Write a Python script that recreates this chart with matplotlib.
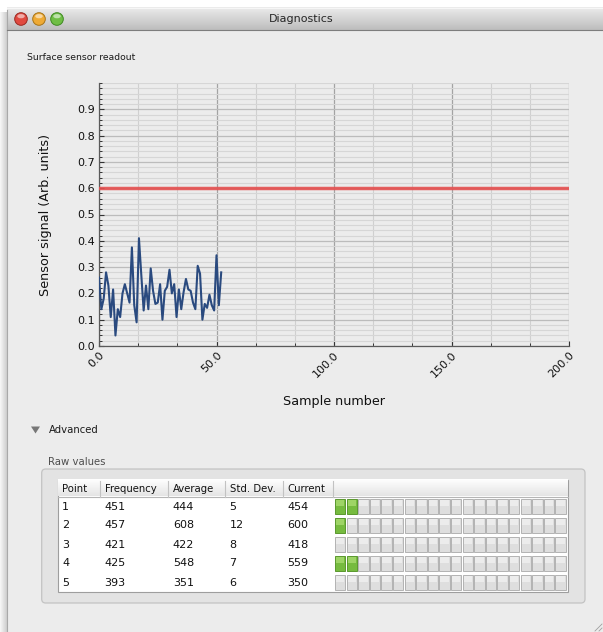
import numpy as np
import matplotlib
matplotlib.use("Agg")
import matplotlib.pyplot as plt
from matplotlib.patches import Rectangle, FancyBboxPatch, Circle, Polygon, Ellipse
from matplotlib.ticker import MultipleLocator, FixedLocator, FormatStrFormatter

# ---------------- data ----------------
sample_index = list(range(53))
signal = [0.26, 0.14, 0.18, 0.28, 0.23, 0.11, 0.215, 0.04, 0.14, 0.11,
          0.20, 0.235, 0.20, 0.165, 0.375, 0.155, 0.09, 0.41, 0.27, 0.135,
          0.23, 0.14, 0.295, 0.21, 0.16, 0.165, 0.235, 0.10, 0.21, 0.225,
          0.29, 0.20, 0.235, 0.11, 0.215, 0.14, 0.205, 0.255, 0.215, 0.21,
          0.165, 0.14, 0.305, 0.275, 0.10, 0.16, 0.145, 0.195, 0.155, 0.135,
          0.345, 0.155, 0.28]
threshold = 0.6
x_limits = (0, 200)
y_limits = (0, 1.0)
x_ticks = [0, 50, 100, 150, 200]
y_ticks = [0.0, 0.1, 0.2, 0.3, 0.4, 0.5, 0.6, 0.7, 0.8, 0.9]

window_title = "Diagnostics"
chart_title = "Surface sensor readout"
x_label = "Sample number"
y_label = "Sensor signal (Arb. units)"

table_columns = ["Point", "Frequency", "Average", "Std. Dev.", "Current"]
points = [1, 2, 3, 4, 5]
frequency = [451, 457, 421, 425, 393]
average = [444, 608, 422, 548, 351]
std_dev = [5, 12, 8, 7, 6]
current = [454, 600, 418, 559, 350]
led_levels = [2, 1, 0, 2, 0]
led_count = 20

# ---------------- figure ----------------
W, H = 603, 632
fig = plt.figure(figsize=(W / 100, H / 100), dpi=100)
fig.patch.set_facecolor("white")
plt.rcParams["font.family"] = ["DejaVu Sans"]

bg = fig.add_axes([0, 0, 1, 1], zorder=0)
bg.axis("off")

def vgrad(ax, x0, x1, y0, y1, c_top, c_bot, z=1):
    c0 = np.array(matplotlib.colors.to_rgb(c_top))
    c1 = np.array(matplotlib.colors.to_rgb(c_bot))
    t = np.linspace(0, 1, 64)[:, None]
    img = (c0[None, :] * (1 - t) + c1[None, :] * t)[:, None, :]
    ax.imshow(img, extent=(x0, x1, y1, y0), origin="upper", aspect="auto",
              zorder=z, interpolation="bilinear")

# left shadow
c0 = np.array(matplotlib.colors.to_rgb("#f7f7f7"))
c1 = np.array(matplotlib.colors.to_rgb("#cfcfcf"))
t = np.linspace(0, 1, 16)[None, :]
img = (c0[:, None] * (1 - t) + c1[:, None] * t).T[None, :, :]
bg.imshow(img, extent=(0, 7, H, 12), origin="upper", aspect="auto", zorder=0.5)

# window body
bg.add_patch(Rectangle((7, 30), W - 7, H - 30, facecolor="#ececec",
                       edgecolor="none", zorder=1))
bg.plot([7, 7], [10, H], color="#a9a9a9", lw=0.8, zorder=3)
# title bar
vgrad(bg, 7, W, 7, 30, "#ececec", "#bdbdbd", z=2)
bg.plot([7, W], [30, 30], color="#7d7d7d", lw=0.8, zorder=3)
bg.plot([7, W], [7.5, 7.5], color="#f9f9f9", lw=0.6, zorder=3)

for cx, fc, ec in [(21, "#e04a40", "#9b2a22"), (39, "#eeaa35", "#a77417"),
                   (57, "#6fbe45", "#3f8a22")]:
    bg.add_patch(Circle((cx, 19), 6.3, facecolor=fc, edgecolor=ec, lw=0.7, zorder=4))
    bg.add_patch(Ellipse((cx, 16.2), 7.5, 4.2, facecolor="white", alpha=0.55,
                         edgecolor="none", zorder=5))
bg.text(301, 19.5, window_title, ha="center", va="center", fontsize=8,
        color="#262626", zorder=5)

bg.text(27, 57, chart_title, ha="left", va="center", fontsize=6.7, color="#1a1a1a",
        zorder=5)

# Advanced disclosure
bg.add_patch(Polygon([(31, 426.5), (40, 426.5), (35.5, 433.5)], closed=True,
                     facecolor="#777777", edgecolor="none", zorder=5))
bg.text(49, 430, "Advanced", ha="left", va="center", fontsize=7.3, color="#1a1a1a",
        zorder=5)
bg.text(48, 462, "Raw values", ha="left", va="center", fontsize=7.3, color="#4d4d4d",
        zorder=5)

# group box
bg.add_patch(FancyBboxPatch((41.7, 469), 585 - 41.7, 603 - 469,
                            boxstyle="round,pad=0,rounding_size=4",
                            facecolor="#e3e3e3", edgecolor="#c3c3c3", lw=0.9,
                            zorder=2))

# table
col_edges = [57.7, 100, 168.3, 225, 282.7, 333.3, 568.3]
tbl_top, hdr_bot, tbl_bot = 479.5, 496.5, 592
bg.add_patch(Rectangle((col_edges[0], tbl_top), col_edges[-1] - col_edges[0],
                       tbl_bot - tbl_top, facecolor="white", edgecolor="#9e9e9e",
                       lw=0.8, zorder=3))
vgrad(bg, col_edges[0] + 0.5, col_edges[-1] - 0.5, tbl_top + 0.5, hdr_bot,
      "#ffffff", "#e4e4e4", z=3.5)
bg.plot([col_edges[0], col_edges[-1]], [hdr_bot, hdr_bot], color="#b5b5b5",
        lw=0.8, zorder=4)
for xe in col_edges[1:-1]:
    bg.plot([xe, xe], [tbl_top + 1, hdr_bot], color="#c2c2c2", lw=0.8, zorder=4)
for xe, name in zip(col_edges[:-2], table_columns):
    bg.text(xe + 4.5, (tbl_top + hdr_bot) / 2 + 0.5, name, ha="left", va="center",
            fontsize=7.3, color="#111111", zorder=5)

row_h = 19
rows = list(zip(points, frequency, average, std_dev, current))
for i, row in enumerate(rows):
    yc = hdr_bot + 10 + i * row_h
    for xe, val in zip(col_edges[:-2], row):
        bg.text(xe + 4.5, yc, str(val), ha="left", va="center", fontsize=8,
                color="#111111", zorder=5)
    for k in range(led_count):
        x0 = 335 + k * 11.6
        on = k < led_levels[i]
        fc = "#76bb3f" if on else "#dedede"
        ec = "#5b982e" if on else "#b3b3b3"
        bg.add_patch(Rectangle((x0, yc - 7.5), 10.4, 15, facecolor=fc,
                               edgecolor=ec, lw=0.7, zorder=4))
        bg.add_patch(Rectangle((x0 + 1, yc - 6.5), 8.4, 6,
                               facecolor="#9ed466" if on else "#ececec",
                               edgecolor="none", zorder=4.5))

# resize grip
for d in (4, 8):
    bg.plot([W - d, W - 1], [H - 1, H - d], color="#a0a0a0", lw=0.6, zorder=5)

bg.set_xlim(0, W)
bg.set_ylim(H, 0)

# ---------------- chart ----------------
ax = fig.add_axes([99 / W, 1 - 346 / H, 470 / W, 263 / H], zorder=2)
ax.set_facecolor("none")
ax.set_xlim(*x_limits)
ax.set_ylim(*y_limits)

ax.xaxis.set_major_locator(FixedLocator(x_ticks))
ax.xaxis.set_minor_locator(MultipleLocator(50 / 3))
ax.yaxis.set_major_locator(FixedLocator(y_ticks))
ax.yaxis.set_minor_locator(MultipleLocator(0.02))
ax.xaxis.set_major_formatter(FormatStrFormatter("%.1f"))
ax.yaxis.set_major_formatter(FormatStrFormatter("%.1f"))

ax.grid(which="minor", axis="y", color="#d6d6d6", lw=0.8)
ax.grid(which="major", axis="y", color="#bcbcbc", lw=0.9)
ax.grid(which="minor", axis="x", color="#d0d0d0", lw=0.8)
ax.grid(which="major", axis="x", color="#a3a3a3", lw=0.9)
ax.set_axisbelow(True)

for s in ("top", "right"):
    ax.spines[s].set_visible(False)
for s in ("left", "bottom"):
    ax.spines[s].set_color("#5a5a5a")
    ax.spines[s].set_linewidth(0.9)

ax.tick_params(which="major", direction="in", length=3.5, width=0.8,
               color="#333333", labelsize=8, labelcolor="#111111", pad=3)
ax.tick_params(which="minor", direction="in", length=2.5, width=0.7,
               color="#333333")
for lab in ax.get_xticklabels():
    lab.set_rotation(45)
    lab.set_ha("right")
    lab.set_va("top")
    lab.set_rotation_mode("anchor")

ax.axhline(threshold, color="#e55050", lw=2.5, alpha=0.9, zorder=3)
ax.plot(sample_index, signal, color="#2a4a7f", lw=1.5, zorder=4)

ax.set_xlabel(x_label, fontsize=9.2, color="#111111")
ax.set_ylabel(y_label, fontsize=9.2, color="#111111")
ax.xaxis.set_label_coords(0.5, -0.185)
ax.yaxis.set_label_coords(-0.1, 0.5)

fig.savefig("out.png", dpi=100, facecolor=fig.get_facecolor())
